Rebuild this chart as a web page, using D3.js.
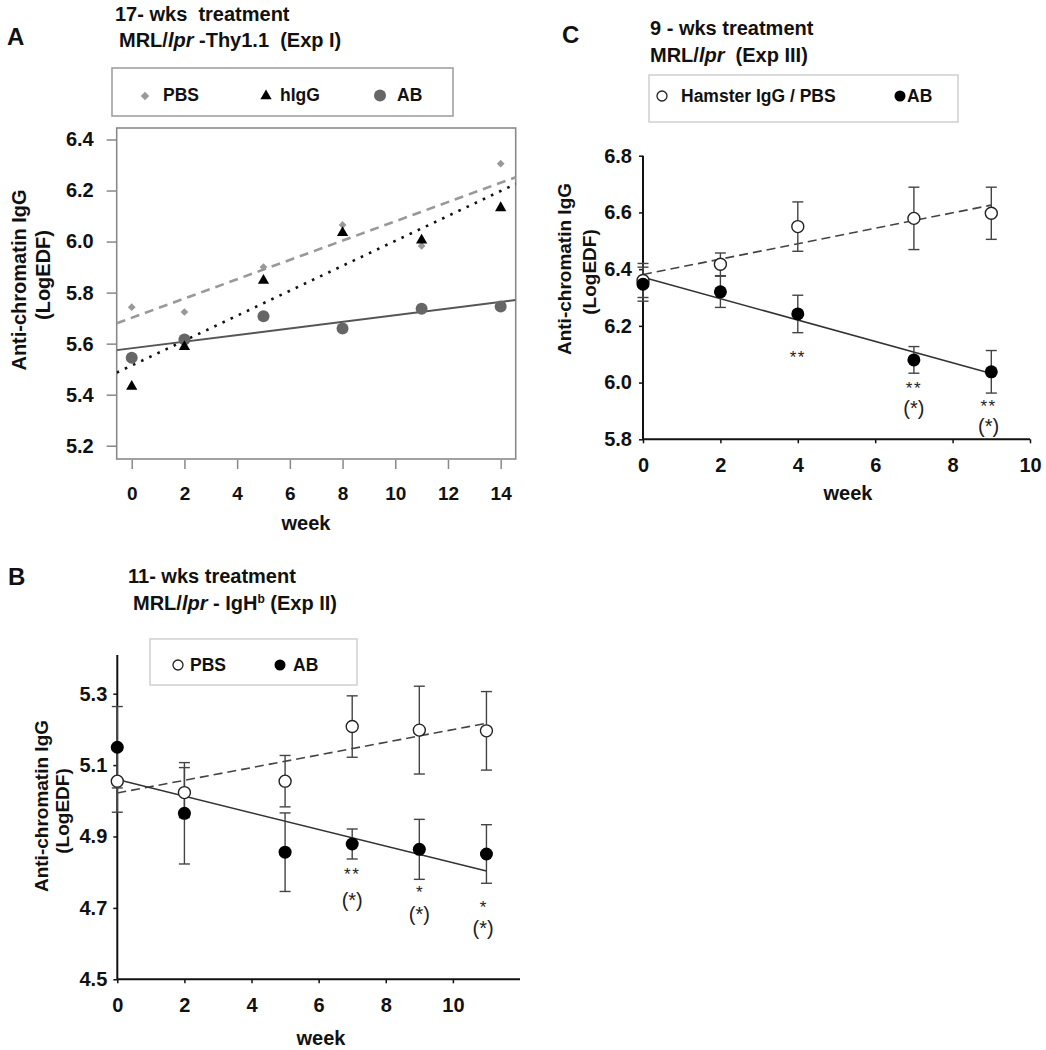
<!DOCTYPE html>
<html>
<head>
<meta charset="utf-8">
<script src="https://cdn.jsdelivr.net/npm/d3@7"></script>
<style>
  body { margin: 0; background: #fff; }
  svg { display: block; }
  text { font-family: 'Liberation Sans', Arial, Helvetica, sans-serif; }
</style>
</head>
<body>
<script>
// ---------- DATA ----------
// Panel A : 17-wks treatment, MRL/lpr-Thy1.1 (Exp I)
const weeksA = [0, 2, 5, 8, 11, 14];
const pbsA   = [5.743, 5.724, 5.900, 6.065, 5.983, 6.305];
const higgA  = [5.432, 5.588, 5.847, 6.035, 6.005, 6.132];
const abA    = [5.545, 5.616, 5.707, 5.659, 5.737, 5.746];
const ticksAY = [5.2, 5.4, 5.6, 5.8, 6.0, 6.2, 6.4];
const ticksAX = [0, 2, 4, 6, 8, 10, 12, 14];

// Panel B : 11-wks treatment, MRL/lpr-IgHb (Exp II)
const weeksB   = [0, 2, 5, 7, 9, 11];
const pbsB     = [5.055, 5.023, 5.055, 5.208, 5.198, 5.196];
const pbsBErr  = [0.087, 0.070, 0.072, 0.086, 0.123, 0.110];
const abB      = [5.150, 4.965, 4.856, 4.879, 4.864, 4.851];
const abBErr   = [0.114, 0.142, 0.110, 0.042, 0.084, 0.082];
const ticksBY  = [4.5, 4.7, 4.9, 5.1, 5.3];
const ticksBX  = [0, 2, 4, 6, 8, 10];
const sigB = [
  {week: 7,    text: "**",  value: 4.777},
  {week: 7,    text: "(*)", value: 4.703},
  {week: 9,    text: "*",   value: 4.729},
  {week: 9,    text: "(*)", value: 4.662},
  {week: 10.9, text: "*",   value: 4.686},
  {week: 10.9, text: "(*)", value: 4.624}
];

// Panel C : 9-wks treatment, MRL/lpr (Exp III)
const weeksC   = [0, 2, 4, 7, 9];
const hamC     = [6.360, 6.417, 6.550, 6.579, 6.597];
const hamCErr  = [0.060, 0.040, 0.087, 0.110, 0.092];
const abC      = [6.347, 6.320, 6.242, 6.080, 6.038];
const abCErr   = [0.060, 0.055, 0.066, 0.047, 0.075];
const ticksCY  = [5.8, 6.0, 6.2, 6.4, 6.6, 6.8];
const ticksCX  = [0, 2, 4, 6, 8, 10];
const sigC = [
  {week: 4,    text: "**",  value: 6.070},
  {week: 7,    text: "**",  value: 5.961},
  {week: 7,    text: "(*)", value: 5.885},
  {week: 8.93, text: "**",  value: 5.895},
  {week: 8.93, text: "(*)", value: 5.8215}
];

// ---------- HELPERS ----------
function fit(xs, ys) {
  const mx = d3.mean(xs), my = d3.mean(ys);
  let sxy = 0, sxx = 0;
  xs.forEach((x, i) => { sxy += (x - mx) * (ys[i] - my); sxx += (x - mx) * (x - mx); });
  const b = sxy / sxx;
  return {a: my - b * mx, b: b, f: x => my - b * mx + b * x};
}

const svg = d3.select("body").append("svg").attr("width", 1046).attr("height", 1050);
svg.append("rect").attr("width", 1046).attr("height", 1050).attr("fill", "#fff");

function label(x, y, str, size, opts = {}) {
  const t = svg.append("text").attr("x", x).attr("y", y)
    .attr("font-size", size).attr("font-weight", opts.weight || "bold")
    .attr("fill", opts.fill || "#111")
    .attr("text-anchor", opts.anchor || "start")
    .style("white-space", "pre");
  if (opts.rotate) t.attr("transform", `rotate(-90 ${x} ${y})`);
  t.text(str);
  return t;
}

function titleLine(x, y, parts, size) {
  const t = svg.append("text").attr("x", x).attr("y", y)
    .attr("font-size", size).attr("font-weight", "bold").attr("fill", "#111")
    .style("white-space", "pre");
  parts.forEach(p => {
    const s = t.append("tspan").text(p.t);
    if (p.i) s.attr("font-style", "italic");
    if (p.sup) s.attr("font-size", size * 0.6).attr("dy", -size * 0.35);
    if (p.after) s.attr("dy", size * 0.35);
  });
}

function styleAxis(g, color, size) {
  g.selectAll("text").attr("font-size", size).attr("font-weight", "bold").attr("fill", "#111")
    .attr("font-family", "'Liberation Sans', Arial, sans-serif");
  g.selectAll("line").attr("stroke", color).attr("stroke-width", 1.5);
  g.select(".domain").remove();
}

// ---------- PANEL A ----------
{
  const x = d3.scaleLinear().domain([-0.57, 14.57]).range([116.7, 515.7]);
  const y = d3.scaleLinear().domain([5.148, 6.445]).range([459, 128]);
  const [x0, x1] = x.range(), [y0, y1] = y.range();

  label(7, 45, "A", 24);
  label(115, 21, "17- wks  treatment", 20);
  titleLine(119, 47, [{t: "MRL/"}, {t: "lpr", i: true}, {t: " -Thy1.1  (Exp I)"}], 20);

  // legend
  svg.append("rect").attr("x", 112).attr("y", 68).attr("width", 341).attr("height", 48)
    .attr("fill", "none").attr("stroke", "#9a9a9a").attr("stroke-width", 1.5);
  svg.append("path").attr("d", d3.symbol(d3.symbolSquare, 36)())
    .attr("transform", "translate(145,96) rotate(45)").attr("fill", "#999");
  label(163, 101, "PBS", 17.5);
  svg.append("path").attr("d", d3.symbol(d3.symbolTriangle, 55)())
    .attr("transform", "translate(266,96)").attr("fill", "#000");
  label(280, 101, "hIgG", 17.5);
  svg.append("circle").attr("cx", 380).attr("cy", 95.5).attr("r", 6).attr("fill", "#666");
  label(397, 101, "AB", 17.5);

  // frame
  svg.append("rect").attr("x", x0).attr("y", y1).attr("width", x1 - x0).attr("height", y0 - y1)
    .attr("fill", "none").attr("stroke", "#8a8a8a").attr("stroke-width", 1.6);

  const gy = svg.append("g").attr("transform", `translate(${x0},0)`)
    .call(d3.axisLeft(y).tickValues(ticksAY).tickSize(10).tickPadding(13).tickFormat(d3.format(".1f")));
  styleAxis(gy, "#888", 20);
  const gx = svg.append("g").attr("transform", `translate(0,${y0 + 1})`)
    .call(d3.axisBottom(x).tickValues(ticksAX).tickSize(9).tickPadding(18));
  styleAxis(gx, "#888", 19);

  label(306, 530, "week", 20, {anchor: "middle"});
  label(26, 280, "Anti-chromatin IgG", 20, {anchor: "middle", rotate: true});
  label(50, 275, "(LogEDF)", 20, {anchor: "middle", rotate: true});

  svg.append("clipPath").attr("id", "clipA").append("rect")
    .attr("x", x0).attr("y", y1).attr("width", x1 - x0).attr("height", y0 - y1);
  const plot = svg.append("g").attr("clip-path", "url(#clipA)");

  const lineOf = (ys) => { const m = fit(weeksA, ys); return [[x0, y(m.f(x.invert(x0)))], [x1, y(m.f(x.invert(x1)))]]; };
  plot.append("path").attr("d", d3.line()(lineOf(pbsA))).attr("stroke", "#999").attr("stroke-width", 2.6)
    .attr("stroke-dasharray", "9,6").attr("fill", "none");
  plot.append("path").attr("d", d3.line()(lineOf(higgA))).attr("stroke", "#111").attr("stroke-width", 2.6)
    .attr("stroke-dasharray", "2.6,6.4").attr("fill", "none");
  plot.append("path").attr("d", d3.line()(lineOf(abA))).attr("stroke", "#555").attr("stroke-width", 2)
    .attr("fill", "none");

  plot.selectAll(".dA").data(weeksA).join("path")
    .attr("d", d3.symbol(d3.symbolSquare, 30)())
    .attr("transform", (d, i) => `translate(${x(d)},${y(pbsA[i])}) rotate(45)`).attr("fill", "#999");
  plot.selectAll(".cA").data(weeksA).join("circle")
    .attr("cx", d => x(d)).attr("cy", (d, i) => y(abA[i])).attr("r", 6).attr("fill", "#666");
  plot.selectAll(".tA").data(weeksA).join("path")
    .attr("d", d3.symbol(d3.symbolTriangle, 55)())
    .attr("transform", (d, i) => `translate(${x(d)},${y(higgA[i])})`).attr("fill", "#000");
}

// ---------- error-bar panels ----------
function errPanel(cfg) {
  const {x, y, weeks, open, openErr, filled, filledErr, sig} = cfg;
  const [x0, x1] = x.range(), [y0, y1] = y.range();
  const g = svg.append("g");

  // axes
  g.append("line").attr("x1", x0).attr("x2", x0).attr("y1", y0).attr("y2", cfg.axisTop)
    .attr("stroke", "#111").attr("stroke-width", 2);
  g.append("line").attr("x1", x0).attr("x2", x1).attr("y1", y0).attr("y2", y0)
    .attr("stroke", "#111").attr("stroke-width", 2);
  const gy = g.append("g").attr("transform", `translate(${x0},0)`)
    .call(d3.axisLeft(y).tickValues(cfg.ticksY).tickSize(4).tickPadding(cfg.padY).tickFormat(d3.format(".1f")));
  styleAxis(gy, "#111", 20);
  const gx = g.append("g").attr("transform", `translate(0,${y0})`)
    .call(d3.axisBottom(x).tickValues(cfg.ticksX).tickSize(4).tickPadding(15));
  styleAxis(gx, "#111", 20);

  const fo = fit(weeks, open), ff = fit(weeks, filled);
  const xe = d3.max(weeks);
  g.append("path").attr("d", d3.line()([[x(0), y(fo.f(0))], [x(xe), y(fo.f(xe))]]))
    .attr("stroke", "#444").attr("stroke-width", 1.6).attr("stroke-dasharray", "9,5").attr("fill", "none");
  g.append("path").attr("d", d3.line()([[x(0), y(ff.f(0))], [x(xe), y(ff.f(xe))]]))
    .attr("stroke", "#333").attr("stroke-width", 1.5).attr("fill", "none");

  function bars(vals, errs) {
    weeks.forEach((w, i) => {
      const cx = x(w), top = y(vals[i] + errs[i]), bot = y(vals[i] - errs[i]);
      g.append("line").attr("x1", cx).attr("x2", cx).attr("y1", top).attr("y2", bot)
        .attr("stroke", "#444").attr("stroke-width", 1.4);
      [top, bot].forEach(yy => g.append("line").attr("x1", cx - 5.5).attr("x2", cx + 5.5)
        .attr("y1", yy).attr("y2", yy).attr("stroke", "#444").attr("stroke-width", 1.4));
    });
  }
  bars(open, openErr);
  bars(filled, filledErr);

  g.selectAll(".o").data(weeks).join("circle")
    .attr("cx", d => x(d)).attr("cy", (d, i) => y(open[i])).attr("r", 6)
    .attr("fill", "#fff").attr("stroke", "#222").attr("stroke-width", 1.4);
  g.selectAll(".f").data(weeks).join("circle")
    .attr("cx", d => x(d)).attr("cy", (d, i) => y(filled[i])).attr("r", 6.5).attr("fill", "#000");

  // significance marks
  g.selectAll(".sig").data(sig).join("text")
    .attr("x", d => x(d.week)).attr("y", d => y(d.value))
    .attr("text-anchor", "middle").attr("font-weight", "normal").attr("fill", "#222")
    .attr("font-size", d => d.text.startsWith("(") ? 20 : 17)
    .attr("letter-spacing", d => d.text === "**" ? 1.5 : 0)
    .text(d => d.text);
}

// ---------- PANEL B ----------
{
  label(8, 585, "B", 24);
  label(128, 583, "11- wks treatment", 20);
  titleLine(133, 610, [{t: "MRL/"}, {t: "lpr", i: true}, {t: " - IgH"}, {t: "b", sup: true}, {t: " (Exp II)", after: true}], 20);

  svg.append("rect").attr("x", 150).attr("y", 639).attr("width", 207).attr("height", 46)
    .attr("fill", "#fff").attr("stroke", "#cfcfcf").attr("stroke-width", 1.5);
  svg.append("circle").attr("cx", 178).attr("cy", 665).attr("r", 5).attr("fill", "#fff")
    .attr("stroke", "#222").attr("stroke-width", 1.3);
  label(190, 671, "PBS", 17.5);
  svg.append("circle").attr("cx", 280).attr("cy", 665).attr("r", 5.5).attr("fill", "#000");
  label(293, 671, "AB", 17.5);

  const x = d3.scaleLinear().domain([0, 12]).range([117.3, 520]);
  const y = d3.scaleLinear().domain([4.5, 5.4]).range([979.3, 658]);
  errPanel({x, y, weeks: weeksB, open: pbsB, openErr: pbsBErr, filled: abB, filledErr: abBErr,
    sig: sigB, ticksY: ticksBY, ticksX: ticksBX, padY: 6, axisTop: 655});

  label(321, 1045, "week", 20, {anchor: "middle"});
  label(47.5, 806, "Anti-chromatin IgG", 19, {anchor: "middle", rotate: true});
  label(68.5, 811, "(LogEDF)", 19, {anchor: "middle", rotate: true});
}

// ---------- PANEL C ----------
{
  label(562, 43, "C", 24);
  label(650, 35, "9 - wks treatment", 20);
  titleLine(650, 62, [{t: "MRL/"}, {t: "lpr", i: true}, {t: "  (Exp III)"}], 20);

  svg.append("rect").attr("x", 649).attr("y", 75).attr("width", 309).attr("height", 47)
    .attr("fill", "#fff").attr("stroke", "#cfcfcf").attr("stroke-width", 1.5);
  svg.append("circle").attr("cx", 662).attr("cy", 96).attr("r", 5).attr("fill", "#fff")
    .attr("stroke", "#222").attr("stroke-width", 1.3);
  label(681, 102, "Hamster IgG / PBS", 17.5);
  svg.append("circle").attr("cx", 900).attr("cy", 96).attr("r", 5.5).attr("fill", "#000");
  label(907, 102, "AB", 17.5);

  const x = d3.scaleLinear().domain([0, 10]).range([643, 1030]);
  const y = d3.scaleLinear().domain([5.8, 6.8]).range([439.3, 155.7]);
  errPanel({x, y, weeks: weeksC, open: hamC, openErr: hamCErr, filled: abC, filledErr: abCErr,
    sig: sigC, ticksY: ticksCY, ticksX: ticksCX, padY: 7, axisTop: 155.7});

  label(848, 500, "week", 20, {anchor: "middle"});
  label(571, 269, "Anti-chromatin IgG", 19, {anchor: "middle", rotate: true});
  label(596, 272, "(LogEDF)", 19, {anchor: "middle", rotate: true});
}
</script>
</body>
</html>
